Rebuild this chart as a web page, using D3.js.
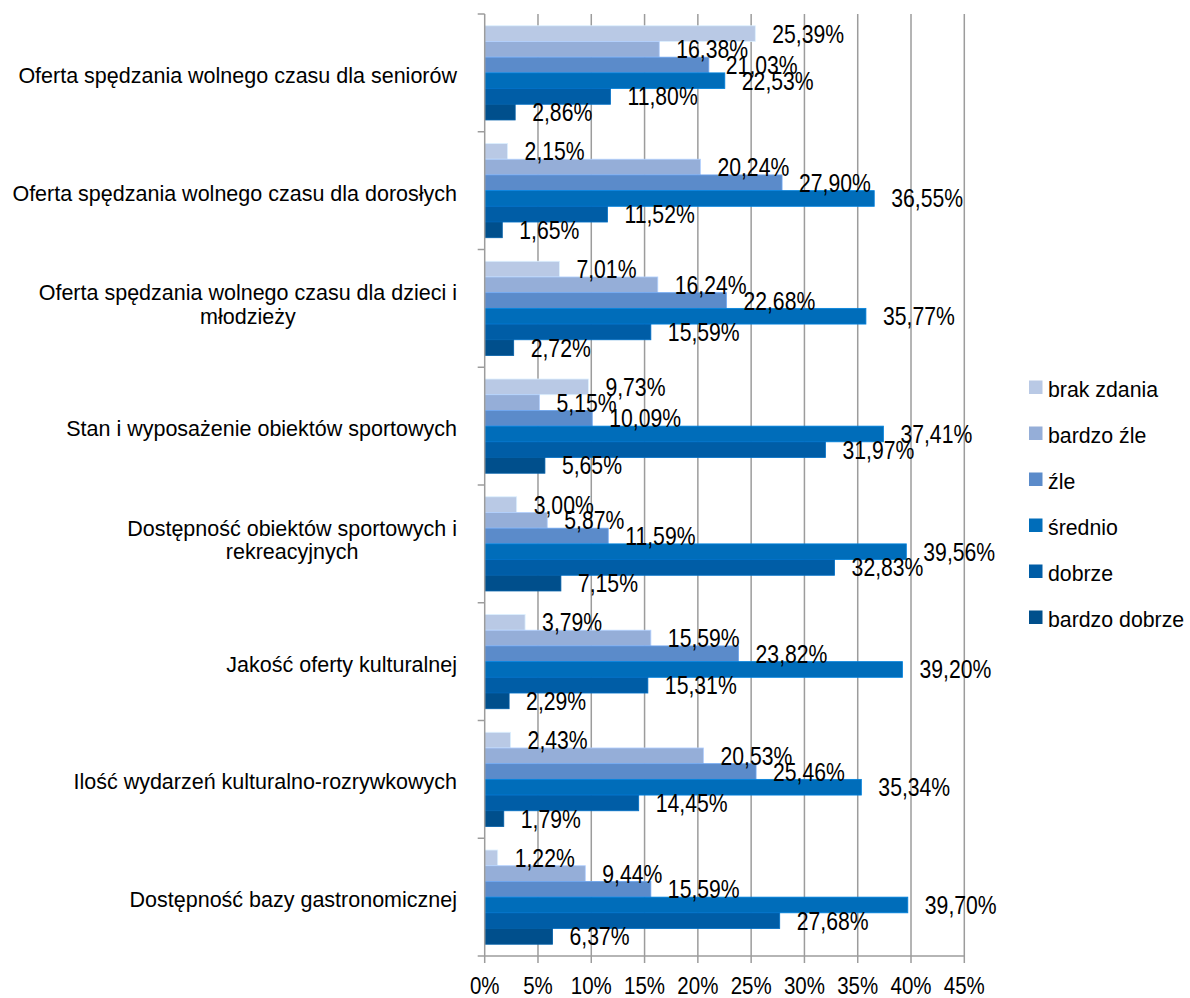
<!DOCTYPE html>
<html>
<head>
<meta charset="utf-8">
<script src="https://cdn.jsdelivr.net/npm/d3@7"></script>
<style>
	body { margin: 0; background: #fff; }
	svg text { font-family: "Liberation Sans", Arial, sans-serif; fill: #000; }
</style>
</head>
<body>
<svg id="chart" width="1190" height="998"></svg>
<script>
// categories, top to bottom (label lines)
let categories = [
	['Oferta spędzania wolnego czasu dla seniorów'],
	['Oferta spędzania wolnego czasu dla dorosłych'],
	['Oferta spędzania wolnego czasu dla dzieci i', 'młodzieży'],
	['Stan i wyposażenie obiektów sportowych'],
	['Dostępność obiektów sportowych i', 'rekreacyjnych'],
	['Jakość oferty kulturalnej'],
	['Ilość wydarzeń kulturalno-rozrywkowych'],
	['Dostępność bazy gastronomicznej']
];
let seriesNames = ['brak zdania', 'bardzo źle', 'źle', 'średnio', 'dobrze', 'bardzo dobrze'];
let seriesColors = ['#B9C9E5', '#95AED8', '#5B8BCA', '#006DBA', '#005DA6', '#004F8C'];
// values per category, in the order of seriesNames
let brakZdania   = [25.39, 2.15, 7.01, 9.73, 3.00, 3.79, 2.43, 1.22];
let bardzoZle    = [16.38, 20.24, 16.24, 5.15, 5.87, 15.59, 20.53, 9.44];
let zle          = [21.03, 27.90, 22.68, 10.09, 11.59, 23.82, 25.46, 15.59];
let srednio      = [22.53, 36.55, 35.77, 37.41, 39.56, 39.20, 35.34, 39.70];
let dobrze       = [11.80, 11.52, 15.59, 31.97, 32.83, 15.31, 14.45, 27.68];
let bardzoDobrze = [2.86, 1.65, 2.72, 5.65, 7.15, 2.29, 1.79, 6.37];
let xTicks = [0, 5, 10, 15, 20, 25, 30, 35, 40, 45];

let values = [brakZdania, bardzoZle, zle, srednio, dobrze, bardzoDobrze];
let rows = categories.map((c, i) => ({
	'label': c,
	'index': i,
	'bars': seriesNames.map((s, j) => ({ 'series': s, 'j': j, 'value': values[j][i] }))
}));

let svg = d3.select('svg#chart');
let plot = { left: 484.7, right: 964.3, top: 14, bottom: 956 };
let stretch = 1.18; // numbers in the original look vertically stretched

let x = d3.scaleLinear([0, 45], [plot.left, plot.right]);
let y = d3.scaleBand(d3.range(categories.length), [plot.top, plot.bottom])
	.paddingInner(0.2)
	.paddingOuter(0.1);
let yInner = d3.scaleBand(d3.range(seriesNames.length), [0, y.bandwidth()]);
let step = y.step();

let fmt = v => d3.format('.2f')(v).replace('.', ',') + '%';

// gridlines
svg.append('g').attr('class', 'grid')
	.selectAll('line')
	.data(xTicks.slice(1))
	.join('line')
	.attr('x1', d => x(d)).attr('x2', d => x(d))
	.attr('y1', plot.top).attr('y2', plot.bottom)
	.attr('stroke', '#9c9c9c')
	.attr('stroke-width', 1.5);

// bars
let groups = svg.append('g').attr('class', 'bars')
	.selectAll('g')
	.data(rows)
	.join('g')
	.attr('transform', d => 'translate(0,' + y(d.index) + ')');

groups.selectAll('rect')
	.data(d => d.bars)
	.join('rect')
	.attr('x', x(0))
	.attr('y', d => yInner(d.j))
	.attr('width', d => x(d.value) - x(0))
	.attr('height', yInner.bandwidth())
	.attr('fill', d => seriesColors[d.j])
	.attr('stroke', d => d3.color(seriesColors[d.j]).brighter(0.5))
	.attr('stroke-width', 0.8);

// value labels
groups.selectAll('text')
	.data(d => d.bars)
	.join('text')
	.attr('transform', d => 'translate(' + (x(d.value) + 17) + ',' + (yInner(d.j) + yInner.bandwidth() / 2 + 9) + ') scale(1,' + stretch + ')')
	.attr('font-size', '21.2px')
	.text(d => fmt(d.value));

// axes
let axis = svg.append('g').attr('class', 'axis')
	.attr('stroke', '#9c9c9c')
	.attr('stroke-width', 1.5);
axis.append('line')
	.attr('x1', plot.left).attr('x2', plot.left)
	.attr('y1', plot.top).attr('y2', plot.bottom);
axis.append('line')
	.attr('x1', plot.left).attr('x2', plot.right)
	.attr('y1', plot.bottom).attr('y2', plot.bottom);
axis.selectAll('line.ytick')
	.data(d3.range(categories.length + 1))
	.join('line')
	.attr('class', 'ytick')
	.attr('x1', plot.left - 7).attr('x2', plot.left)
	.attr('y1', d => plot.top + d * step).attr('y2', d => plot.top + d * step);
axis.selectAll('line.xtick')
	.data(xTicks)
	.join('line')
	.attr('class', 'xtick')
	.attr('x1', d => x(d)).attr('x2', d => x(d))
	.attr('y1', plot.bottom).attr('y2', plot.bottom + 7);

svg.append('g').attr('class', 'xlabels')
	.selectAll('text')
	.data(xTicks)
	.join('text')
	.attr('transform', d => 'translate(' + x(d) + ',994) scale(1,' + stretch + ')')
	.attr('text-anchor', 'middle')
	.attr('font-size', '20.5px')
	.text(d => d + '%');

// category labels: widest line ends at the right edge, others centred on it
let catG = svg.append('g').attr('class', 'ylabels')
	.selectAll('text')
	.data(rows)
	.join('text')
	.attr('font-size', '21.5px')
	.attr('text-anchor', 'middle');
catG.each(function (d) {
	let t = d3.select(this);
	let n = d.label.length;
	let cy = y(d.index) + y.bandwidth() / 2;
	d.label.forEach((line, k) => {
		t.append('tspan')
			.attr('y', cy + 10 - (n - 1) * 18 + k * 23.5)
			.text(line);
	});
	let w = d3.max(t.selectAll('tspan').nodes(), s => s.getComputedTextLength());
	t.selectAll('tspan').attr('x', 457 - w / 2);
});

// legend
let legend = svg.append('g').attr('class', 'legend')
	.selectAll('g')
	.data(seriesNames)
	.join('g')
	.attr('transform', (d, i) => 'translate(1029,' + (387 + i * 46) + ')');
legend.append('rect')
	.attr('x', 0).attr('y', -6.5)
	.attr('width', 13.5).attr('height', 13.5)
	.attr('fill', (d, i) => seriesColors[i]);
legend.append('text')
	.attr('x', 19).attr('y', 9.5)
	.attr('font-size', '21.3px')
	.text(d => d);
</script>
</body>
</html>
